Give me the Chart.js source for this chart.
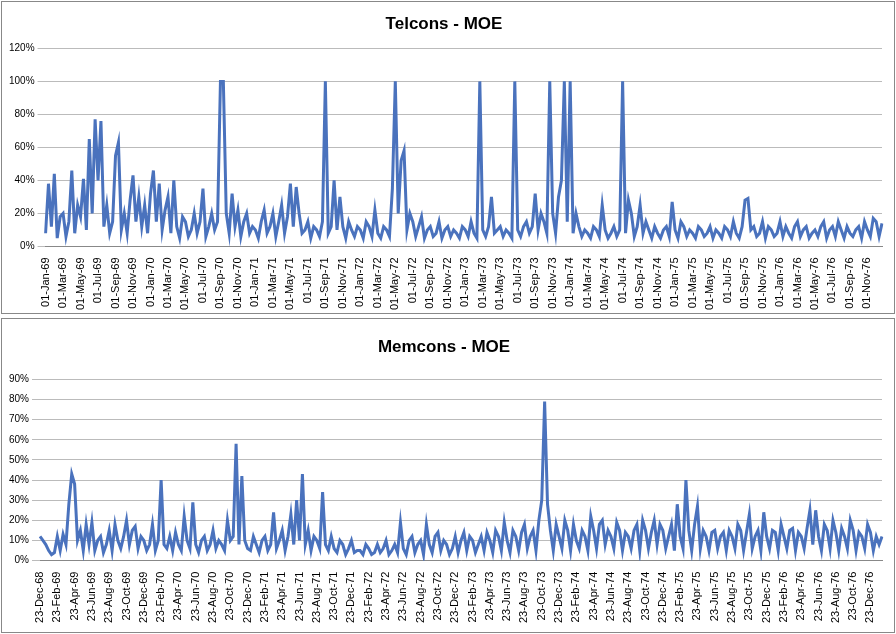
<!DOCTYPE html>
<html><head><meta charset="utf-8">
<script src="https://cdn.jsdelivr.net/npm/chart.js@4"></script>
<style>
body{margin:0;background:#fff;font-family:"Liberation Sans",Arial,sans-serif}
.panel{position:absolute;left:1px;width:892px;border:1px solid #888;background:#fff}
</style></head><body>
<div class="panel" style="top:1px;height:311px"><canvas id="c1"></canvas></div>
<div class="panel" style="top:318px;height:313px"><canvas id="c2"></canvas></div>
<script>
const MONTHS = ['Jan','Feb','Mar','Apr','May','Jun','Jul','Aug','Sep','Oct','Nov','Dec'];
// 3 readings per month
const telcons = [
 8,38,12, 44,5,18, 20,6,15, 46,8,25, 18,41,10, 65,20,77, 40,76,12, 25,8,15, 55,63,10, 20,8,28, 43,15,30, 12,25,8,
 32,46,15, 38,10,22, 30,8,40, 12,5,18, 15,6,10, 20,8,15, 35,6,12, 20,10,15, 100,100,20, 8,32,12, 22,6,15, 20,8,12,
 10,5,15, 22,8,12, 20,6,15, 25,8,18, 38,12,36, 20,8,10, 15,5,12, 10,6,15, 100,8,12, 40,10,30, 12,5,15, 10,6,12,
 10,5,15, 12,6,22, 8,5,12, 10,6,35, 100,20,52, 58,10,20, 15,6,12, 18,5,10, 12,6,8, 15,5,10, 12,6,10, 8,5,12,
 10,6,15, 8,5,100, 10,6,12, 30,8,10, 12,6,10, 8,5,100, 10,6,12, 15,8,12, 32,10,20, 15,8,100, 20,8,30, 40,100,15,
 100,8,20, 12,6,10, 8,5,12, 10,6,25, 10,5,8, 12,6,10, 100,8,28, 20,6,12, 25,8,15, 10,5,12, 8,5,10, 12,6,27,
 10,5,15, 12,6,10, 8,5,12, 10,6,8, 12,5,10, 8,5,12, 10,6,15, 8,5,12, 28,29,10, 12,6,8, 15,5,12, 10,6,8,
 15,6,12, 8,5,12, 15,6,10, 12,5,8, 10,6,12, 15,5,10, 12,6,15, 10,5,12, 8,6,10, 12,5,15, 10,6,17, 15,6,14
];
const memcons = [
 12,10,8,
 5,3,4, 12,5,13, 8,28,43, 38,10,15, 5,18,8, 19,5,10, 12,4,8, 15,5,18, 10,6,12, 20,8,15, 17,6,12, 10,5,8,
 18,5,10, 40,8,6, 12,5,14, 8,5,22, 10,6,29, 8,4,10, 12,5,8, 15,6,10, 8,5,20, 10,12,58, 8,42,10, 6,5,12,
 8,4,10, 12,5,8, 24,6,10, 15,5,12, 23,8,30, 10,43,8, 15,5,12, 10,6,34, 8,5,12, 6,4,10, 8,3,6, 10,4,5,
 5,3,8, 6,3,4, 8,4,6, 10,3,5, 8,4,19, 6,3,10, 12,4,8, 10,3,18, 8,4,12, 14,5,10, 8,3,6, 12,4,10,
 14,5,12, 10,4,8, 12,5,14, 10,4,15, 12,5,19, 10,4,15, 12,5,14, 18,6,12, 15,5,20, 30,79,28, 15,5,18, 12,6,20,
 15,5,18, 10,6,15, 12,5,22, 15,6,18, 20,8,15, 12,6,19, 15,5,14, 12,6,15, 18,5,20, 15,6,14, 20,8,18, 15,6,12,
 18,5,28, 12,6,40, 15,5,18, 27,6,15, 12,5,14, 15,6,12, 14,5,15, 12,6,18, 15,5,14, 23,6,12, 15,5,24, 12,6,15,
 14,5,18, 12,6,15, 16,5,14, 12,6,16, 25,8,25, 12,5,18, 15,6,20, 14,5,16, 12,6,20, 15,5,14, 12,6,18, 14,5,12,
 8,12
];

function monthLabels(n, day, startYear, startMonth) {
  const out = [];
  for (let i = 0; i < n; i++) {
    if (i % 3 === 0) {
      const m = (startMonth + i / 3) % 12;
      const y = startYear + Math.floor((startMonth + i / 3) / 12);
      out.push(day + '-' + MONTHS[m] + '-' + String(y).slice(2));
    } else out.push('');
  }
  return out;
}
const telLabels = monthLabels(telcons.length, '01', 1969, 0);
const memLabels = monthLabels(memcons.length, '23', 1968, 11);

function makeChart(id, title, labels, data, ymax, ystep, titlePad, bottomPad) {
  new Chart(document.getElementById(id), {
    type: 'line',
    data: { labels, datasets: [{ data, borderColor: '#4a72bd', borderWidth: 3, pointRadius: 0, tension: 0, fill: false }] },
    options: {
      responsive: true, maintainAspectRatio: false, animation: false,
      layout: { padding: { left: 4, right: 12, top: 0, bottom: bottomPad } },
      plugins: {
        legend: { display: false },
        title: { display: true, text: title, color: '#000', font: { size: 17, weight: 'bold' }, padding: titlePad },
        tooltip: { enabled: false }
      },
      scales: {
        x: {
          grid: { display: false },
          border: { color: '#888' },
          ticks: {
            autoSkip: false, maxRotation: 90, minRotation: 90, color: '#000', font: { size: 11 },
            callback: (v, i) => (i % 6 === 0 ? labels[i] : null)
          }
        },
        y: {
          min: 0, max: ymax,
          grid: { color: '#bbb' },
          border: { display: false },
          ticks: { stepSize: ystep, color: '#000', font: { size: 10 }, callback: v => v + '%' }
        }
      }
    }
  });
}
makeChart('c1', 'Telcons - MOE', telLabels, telcons, 120, 20, { top: 12, bottom: 14 }, 0);
makeChart('c2', 'Memcons - MOE', memLabels, memcons, 90, 10, { top: 18, bottom: 22 }, 6);
</script>
</body></html>
